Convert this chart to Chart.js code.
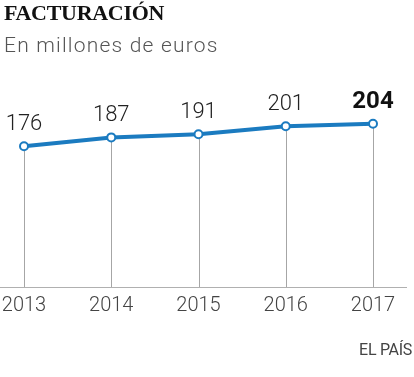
<!DOCTYPE html>
<html>
<head>
<meta charset="utf-8">
<script src="https://cdn.jsdelivr.net/npm/chart.js@4"></script>
<style>
  body { margin: 0; background: #fff; width: 414px; height: 377px; position: relative; overflow: hidden; }
  .title { position: absolute; left: 4px; top: 0px; font: bold 22px "Liberation Serif", serif; color: #111; letter-spacing: -0.3px; }
  .subtitle { position: absolute; left: 4px; top: 33px; font: 300 21px Roboto, sans-serif; color: #555; letter-spacing: 1.2px; }
  .source { position: absolute; right: 2px; top: 340px; font: 400 16px Roboto, sans-serif; color: #444; letter-spacing: -0.3px; }
  #chartWrap { position: absolute; left: 0; top: 0; width: 414px; height: 377px; }
</style>
</head>
<body>
<div id="chartWrap"><canvas id="facturacion" width="414" height="377"></canvas></div>
<div class="title">FACTURACIÓN</div>
<div class="subtitle">En millones de euros</div>
<div class="source">EL PAÍS</div>
<script>
// --- Datos ---
const years = ['2013', '2014', '2015', '2016', '2017'];
const revenue = [176, 187, 191, 201, 204];

const BLUE = '#1b7bc0';

// Líneas verticales desde cada punto hasta la base, línea base y etiquetas de valor
const pointDecor = {
    id: 'pointDecor',
    beforeDatasetsDraw(chart) {
        const { ctx, chartArea } = chart;
        const meta = chart.getDatasetMeta(0);
        ctx.save();
        ctx.strokeStyle = '#a6a6a6';
        ctx.lineWidth = 1;
        meta.data.forEach(pt => {
            const x = Math.round(pt.x) + 0.5;
            ctx.beginPath();
            ctx.moveTo(x, pt.y);
            ctx.lineTo(x, chartArea.bottom);
            ctx.stroke();
        });
        ctx.strokeStyle = '#b0b0b0';
        ctx.beginPath();
        ctx.moveTo(0, chartArea.bottom + 0.5);
        ctx.lineTo(chart.width - 7, chartArea.bottom + 0.5);
        ctx.stroke();
        ctx.restore();
    },
    afterDatasetsDraw(chart) {
        const { ctx } = chart;
        const meta = chart.getDatasetMeta(0);
        ctx.save();
        ctx.textAlign = 'center';
        ctx.textBaseline = 'alphabetic';
        meta.data.forEach((pt, i) => {
            const last = i === meta.data.length - 1;
            ctx.font = last ? 'bold 24px Roboto, sans-serif' : '300 22px Roboto, sans-serif';
            ctx.fillStyle = last ? '#111' : '#222';
            ctx.fillText(String(revenue[i]), pt.x, pt.y - 16);
        });
        ctx.restore();
    }
};

new Chart(document.getElementById('facturacion'), {
    type: 'line',
    data: {
        labels: years,
        datasets: [{
            data: revenue,
            borderColor: BLUE,
            borderWidth: 4,
            pointRadius: 4,
            pointBorderWidth: 2,
            pointBackgroundColor: '#fff',
            pointBorderColor: BLUE,
            tension: 0,
            clip: false
        }]
    },
    options: {
        responsive: false,
        animation: false,
        devicePixelRatio: 1,
        layout: { padding: { left: 24, right: 41, top: 87, bottom: 0 } },
        plugins: { legend: { display: false }, tooltip: { enabled: false } },
        scales: {
            x: {
                offset: false,
                grid: { display: false, drawTicks: false },
                border: { display: false },
                ticks: { color: '#444', padding: 7, font: { family: 'Roboto', weight: '300', size: 20 }, maxRotation: 0 },
                afterFit(scale) {
                    scale.height = 90;
                    scale.paddingLeft = 0;
                    scale.paddingRight = 0;
                }
            },
            y: {
                display: false,
                min: 0,
                max: 250
            }
        }
    },
    plugins: [pointDecor]
});
</script>
</body>
</html>
